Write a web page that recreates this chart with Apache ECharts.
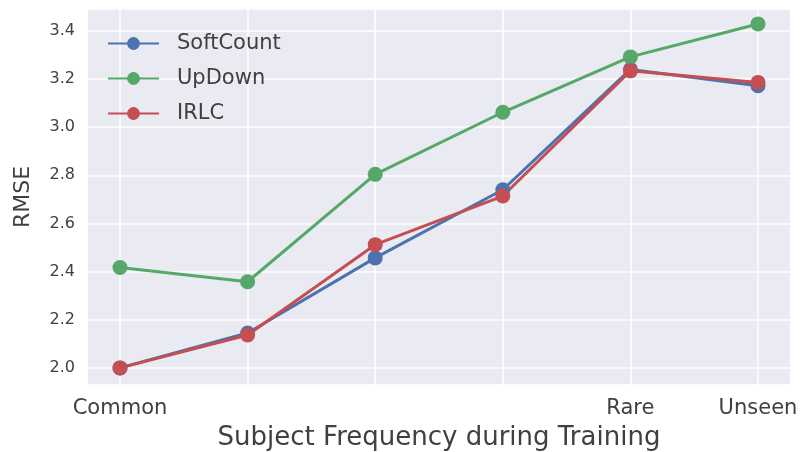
<!DOCTYPE html>
<html>
<head>
<meta charset="utf-8">
<script src="https://cdn.jsdelivr.net/npm/echarts@6/dist/echarts.min.js"></script>
<style>html,body{margin:0;padding:0;background:#fff;}#c{width:804px;height:452px;}</style>
</head>
<body>
<div id="c"></div>
<script>
const categories = ['Common', '', '', '', 'Rare', 'Unseen'];
const softCount = [2.0, 2.145, 2.457, 2.74, 3.24, 3.172];
const upDown = [2.417, 2.358, 2.804, 3.062, 3.292, 3.429];
const irlc = [2.0, 2.137, 2.512, 2.714, 3.234, 3.186];
const yMin = 1.929, yMax = 3.491;

const FONT = 'DejaVu Sans';
const TXT = '#404040';
const chart = echarts.init(document.getElementById('c'), null, {renderer: 'canvas'});

function mkSeries(name, data, color) {
  return {
    name: name, type: 'line', data: data,
    xAxisIndex: 1, yAxisIndex: 1,
    symbol: 'circle', symbolSize: 15,
    lineStyle: {color: color, width: 3},
    itemStyle: {color: color},
    emphasis: {disabled: true}
  };
}

chart.setOption({
  animation: false,
  grid: [
    {left: 88, right: 14, top: 9, bottom: 67, show: true, backgroundColor: '#EAEAF2', borderWidth: 0,
     containLabel: false, outerBoundsMode: 'none'},
    {left: 120, right: 46, top: 9, bottom: 67, containLabel: false, outerBoundsMode: 'none'}
  ],
  xAxis: [
    {type: 'value', gridIndex: 0, min: 0, max: 1, show: false},
    {type: 'category', gridIndex: 1, data: categories, boundaryGap: false,
     axisLine: {show: false}, axisTick: {show: false},
     axisLabel: {fontFamily: FONT, fontSize: 21, color: TXT, margin: 13},
     splitLine: {show: true, lineStyle: {color: '#ffffff', width: 1.5}},
     name: 'Subject Frequency during Training', nameLocation: 'middle', nameGap: 40,
     nameTextStyle: {fontFamily: FONT, fontSize: 26, color: TXT}}
  ],
  yAxis: [
    {type: 'value', gridIndex: 0, min: yMin, max: yMax, splitNumber: 8, minInterval: 0.2, maxInterval: 0.2,
     axisLine: {show: false}, axisTick: {show: false},
     axisLabel: {fontFamily: FONT, fontSize: 16, color: TXT, margin: 13, showMinLabel: false, showMaxLabel: false,
       formatter: v => v.toFixed(1)},
     splitLine: {show: true, lineStyle: {color: '#ffffff', width: 1.5}},
     name: 'RMSE', nameLocation: 'middle', nameGap: 54, nameRotate: 90,
     nameTextStyle: {fontFamily: FONT, fontSize: 22, color: TXT}},
    {type: 'value', gridIndex: 1, min: yMin, max: yMax, show: false, splitLine: {show: false}}
  ],
  legend: {
    orient: 'vertical', left: 107, top: 33, padding: 0, itemGap: 14, itemWidth: 51, itemHeight: 16,
    textStyle: {fontFamily: FONT, fontSize: 21, color: TXT, padding: [0, 0, 0, 13]},
    data: ['SoftCount', 'UpDown', 'IRLC']
  },
  series: [
    mkSeries('SoftCount', softCount, '#4C72B0'),
    mkSeries('UpDown', upDown, '#55A868'),
    mkSeries('IRLC', irlc, '#C44E52')
  ]
});
</script>
</body>
</html>
